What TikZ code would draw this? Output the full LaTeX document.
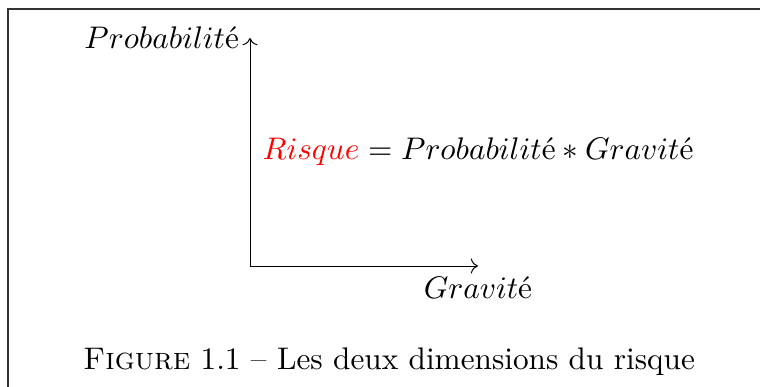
\documentclass[tikz,border=0pt]{standalone}
\usepackage{amsmath}
\usepackage{xcolor}
\usetikzlibrary{arrows.meta,positioning}
\tikzset{
  axe/.style={<->,line width=0.32pt},
  etiquette/.style={inner sep=3.33pt}
}

\begin{document}
\begin{tikzpicture}[x=0.32pt,y=-0.32pt]
  \useasboundingbox (0,0) rectangle (760,387);
  % cadre
  \draw[line width=0.4pt,black!80] (8,400) -- (8,9) -- (770,9);
  % axes
  \coordinate (O) at (250,266);
  \coordinate (haut) at (250,38);
  \coordinate (droite) at (478,266);
  \draw[axe] (haut) -- (O) -- (droite);
  \node[etiquette,left] (proba) at (haut) {$Probabilit$é};
  \node[etiquette,below] (grav) at (droite) {$Gravit$é};
  \node[etiquette] (risque) at (478,152) {$\textcolor{red}{Risque} = Probabilit\text{é} * Gravit\text{é}$};
  % legende
  \node (legende) at (389,362) {\textsc{Figure} 1.1 -- Les deux dimensions du risque};
\end{tikzpicture}
\end{document}
